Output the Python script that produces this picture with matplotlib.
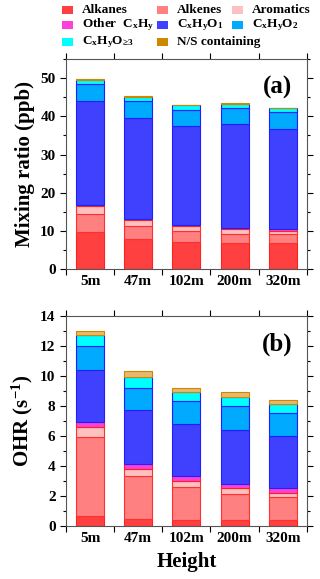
import numpy as np
import matplotlib
matplotlib.use("Agg")
import matplotlib.pyplot as plt
from matplotlib.patches import Rectangle
from matplotlib.ticker import MultipleLocator, FixedLocator

plt.rcParams['font.family'] = ['Liberation Serif', 'DejaVu Serif']
plt.rcParams['font.weight'] = 'bold'
plt.rcParams['mathtext.fontset'] = 'custom'
plt.rcParams['mathtext.rm'] = 'Liberation Serif:bold'
plt.rcParams['mathtext.it'] = 'Liberation Serif:bold'
plt.rcParams['mathtext.bf'] = 'Liberation Serif:bold'

# --------------------------
# Datos
# --------------------------
heights = ['5m', '47m', '102m', '200m', '320m']
groups = ['Alkanes', 'Alkenes', 'Aromatics', 'Other  C$_x$H$_y$',
          'C$_x$H$_y$O$_1$', 'C$_x$H$_y$O$_2$', 'C$_x$H$_y$O$_{\u22653}$',
          'N/S containing']

# mixing ratio (ppb)
mr_alkanes = [9.8, 8.0, 7.1, 6.9, 6.9]
mr_alkenes = [4.7, 3.3, 2.8, 2.3, 2.2]
mr_aromatics = [2.0, 1.5, 1.4, 1.2, 1.0]
mr_other = [0.3, 0.3, 0.3, 0.3, 0.3]
mr_o1 = [27.2, 26.4, 25.9, 27.2, 26.2]
mr_o2 = [4.5, 4.5, 4.3, 4.4, 4.6]
mr_o3 = [1.1, 1.0, 1.1, 1.0, 0.9]
mr_ns = [0.3, 0.4, 0.2, 0.3, 0.2]

# OH reactivity (s-1)
ohr_alkanes = [0.7, 0.5, 0.4, 0.4, 0.4]
ohr_alkenes = [5.2, 2.8, 2.2, 1.7, 1.5]
ohr_aromatics = [0.7, 0.5, 0.4, 0.4, 0.3]
ohr_other = [0.3, 0.3, 0.3, 0.3, 0.3]
ohr_o1 = [3.5, 3.6, 3.5, 3.6, 3.5]
ohr_o2 = [1.6, 1.5, 1.5, 1.6, 1.5]
ohr_o3 = [0.7, 0.7, 0.6, 0.6, 0.6]
ohr_ns = [0.3, 0.4, 0.3, 0.3, 0.3]

mr = [mr_alkanes, mr_alkenes, mr_aromatics, mr_other, mr_o1, mr_o2, mr_o3, mr_ns]
ohr = [ohr_alkanes, ohr_alkenes, ohr_aromatics, ohr_other, ohr_o1, ohr_o2, ohr_o3, ohr_ns]

# colores
fill = ['#FF4040', '#FF8080', '#FFC0C0', '#FF40D8', '#4040FF', '#00AAFF', '#00FFFF', '#E8B870']
edge = ['#FF2020', '#FF3030', '#FF3030', '#FF2020', '#2020FF', '#2020FF', '#2020FF', '#CC8800']
legcol = ['#FF4040', '#FF8080', '#FFC0C0', '#FF40D8', '#4040FF', '#00AAFF', '#00FFFF', '#CC8800']

x = np.arange(len(heights))
W = 0.58

FW, FH = 320, 579
fig = plt.figure(figsize=(3.2, 5.79), dpi=100)
ax1 = fig.add_axes([0.206, 0.535, 0.753, 0.363])
ax2 = fig.add_axes([0.206, 0.0915, 0.753, 0.363])


def stack(ax, data):
    bottom = np.zeros(len(heights))
    for vals, fc, ec in zip(data, fill, edge):
        ax.bar(x, vals, W, bottom=bottom, color=fc, edgecolor=ec, linewidth=0.8)
        bottom += np.array(vals)


def style(ax, ymax, major, minor):
    ax.set_xlim(-0.5, 4.5)
    ax.set_ylim(0, ymax)
    ax.set_xticks(x)
    ax.set_xticklabels(heights)
    ax.xaxis.set_minor_locator(FixedLocator(np.arange(-0.5, 5, 1)))
    ax.tick_params(axis='x', which='major', length=0, labelsize=11, pad=4)
    ax.tick_params(axis='x', which='minor', length=4, direction='out', top=True, bottom=True, width=0.8)
    ax.yaxis.set_major_locator(MultipleLocator(major))
    ax.yaxis.set_minor_locator(MultipleLocator(minor))
    ax.tick_params(axis='y', which='major', length=4, direction='out', left=True, right=True, labelsize=11, width=0.8)
    ax.tick_params(axis='y', which='minor', length=2, direction='out', left=True, right=True, width=0.8)
    for s in ax.spines.values():
        s.set_color('#555555')
        s.set_linewidth(0.8)


stack(ax1, mr)
style(ax1, 55, 10, 5)
ax1.set_ylabel('Mixing ratio (ppb)', fontsize=15, fontweight='bold', labelpad=4)
ax1.text(0.94, 0.92, '(a)', transform=ax1.transAxes, ha='right', va='top', fontsize=18, fontweight='bold')

stack(ax2, ohr)
style(ax2, 14, 2, 1)
ax2.set_ylabel('OHR (s$^{-1}$)', fontsize=15, fontweight='bold', labelpad=4)
ax2.set_xlabel('Height', fontsize=15, fontweight='bold', labelpad=5)
ax2.text(0.94, 0.92, '(b)', transform=ax2.transAxes, ha='right', va='top', fontsize=18, fontweight='bold')

# leyenda manual (3 columnas, por filas)
col_x = [62, 157, 232]
row_y = [10, 25, 42]
for i, (lab, c) in enumerate(zip(groups, legcol)):
    r, k = divmod(i, 3)
    px, py = col_x[k], row_y[r]
    fig.add_artist(Rectangle((px / FW, 1 - (py + 4) / FH), 11 / FW, 8 / FH,
                             facecolor=c, edgecolor='none', transform=fig.transFigure))
    fig.text((px + 20) / FW, 1 - py / FH, lab, fontsize=9.5, fontweight='bold',
             ha='left', va='center')

fig.savefig('out.png', dpi=100)
